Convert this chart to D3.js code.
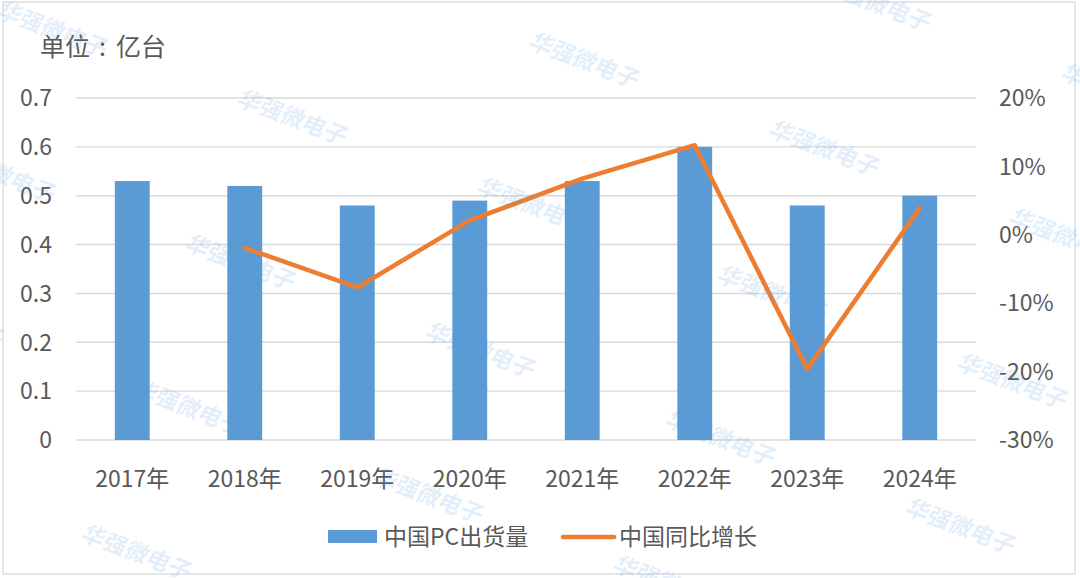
<!DOCTYPE html>
<html><head><meta charset="utf-8">
<script src="https://cdn.jsdelivr.net/npm/d3@7"></script>
<style>body{margin:0;background:#fff}svg{display:block}</style>
</head><body>
<svg id="c" width="1080" height="578"></svg>
<script>
const years = ["2017年","2018年","2019年","2020年","2021年","2022年","2023年","2024年"];
const shipments = [0.53,0.52,0.48,0.49,0.53,0.60,0.48,0.50];
const growth = [null,-0.019,-0.077,0.021,0.082,0.131,-0.196,0.039];
const leftTicks = [0,0.1,0.2,0.3,0.4,0.5,0.6,0.7];
const rightTicks = [-0.3,-0.2,-0.1,0,0.1,0.2];
const unitParts = ["单位",":","亿台"];
const seriesNames = ["中国PC出货量","中国同比增长"];
const watermark = "华强微电子";

const font = "'Noto Sans CJK SC','Noto Sans',sans-serif";
const txt = "#595959";
const svg = d3.select("#c");

svg.append("rect").attr("x",3).attr("y",2).attr("width",1072).attr("height",572)
  .attr("fill","#fff").attr("stroke","#D9D9D9").attr("stroke-width",1.3);

const x = d3.scaleBand().domain(years).range([76,976]).paddingInner(0.69).paddingOuter(0.345);
const yL = d3.scaleLinear().domain([0,0.7]).range([440,98]);
const yR = d3.scaleLinear().domain([-0.3,0.2]).range([440,98]);

// gridlines
svg.append("g").selectAll("line").data(leftTicks).join("line")
  .attr("x1",76).attr("x2",976).attr("y1",d=>yL(d)).attr("y2",d=>yL(d))
  .attr("stroke","#D9D9D9").attr("stroke-width",1.4);

// left axis labels
svg.append("g").selectAll("text").data(leftTicks).join("text")
  .attr("x",52).attr("y",d=>yL(d)).attr("dy","0.36em").attr("text-anchor","end")
  .attr("font-family",font).attr("font-size",23).attr("fill",txt)
  .text(d=>d3.format("~g")(d));

// right axis labels
svg.append("g").selectAll("text").data(rightTicks).join("text")
  .attr("x",999).attr("y",d=>yR(d)).attr("dy","0.36em").attr("text-anchor","start")
  .attr("font-family",font).attr("font-size",23).attr("fill",txt)
  .text(d=>d3.format(".0%")(d).replace("−","-"));

// bars
svg.append("g").selectAll("rect").data(years).join("rect")
  .attr("x",d=>x(d)).attr("width",x.bandwidth())
  .attr("y",(d,i)=>yL(shipments[i])).attr("height",(d,i)=>yL(0)-yL(shipments[i]))
  .attr("fill","#5B9BD5");

// x labels
svg.append("g").selectAll("text").data(years).join("text")
  .attr("x",d=>x(d)+x.bandwidth()/2).attr("y",487).attr("text-anchor","middle")
  .attr("font-family",font).attr("font-size",23).attr("fill",txt).text(d=>d);

// line
const pts = years.map((d,i)=>({d,v:growth[i]})).filter(p=>p.v!==null);
svg.append("path").datum(pts)
  .attr("d",d3.line().x(p=>x(p.d)+x.bandwidth()/2).y(p=>yR(p.v)))
  .attr("fill","none").attr("stroke","#ED7D31").attr("stroke-width",4.5)
  .attr("stroke-linejoin","round").attr("stroke-linecap","round");

// title
const t = svg.append("text").attr("x",40).attr("y",56).attr("font-family",font)
  .attr("font-size",25).attr("fill",txt);
t.append("tspan").text(unitParts[0]);
t.append("tspan").attr("dx",9).text(unitParts[1]);
t.append("tspan").attr("dx",10).text(unitParts[2]);

// legend
const lg = svg.append("g");
lg.append("rect").attr("x",328).attr("y",530).attr("width",49).attr("height",13).attr("fill","#5B9BD5");
lg.append("text").attr("x",384).attr("y",537).attr("dy","0.36em").attr("font-family",font)
  .attr("font-size",23).attr("fill",txt).text(seriesNames[0]);
lg.append("line").attr("x1",563).attr("x2",614).attr("y1",537).attr("y2",537)
  .attr("stroke","#ED7D31").attr("stroke-width",4.5).attr("stroke-linecap","round");
lg.append("text").attr("x",619).attr("y",537).attr("dy","0.36em").attr("font-family",font)
  .attr("font-size",23).attr("fill",txt).text(seriesNames[1]);

// watermarks
const wm = svg.append("g").attr("pointer-events","none");
const marks = [];
for (let i=-2;i<=5;i++) for (let j=-2;j<=5;j++) {
  const px = 235 + i*240 - j*52, py = 90 + i*88 + j*145;
  if (px>-150 && px<1100 && py>-80 && py<600) marks.push([px,py]);
}
wm.selectAll("text").data(marks).join("text")
  .attr("transform",d=>`translate(${d[0]},${d[1]+14}) rotate(21) skewX(-10)`)
  .attr("font-family",font).attr("font-size",23).attr("font-weight","bold")
  .attr("fill","#4a9be0").attr("fill-opacity",0.17).text(watermark);
</script>
</body></html>
